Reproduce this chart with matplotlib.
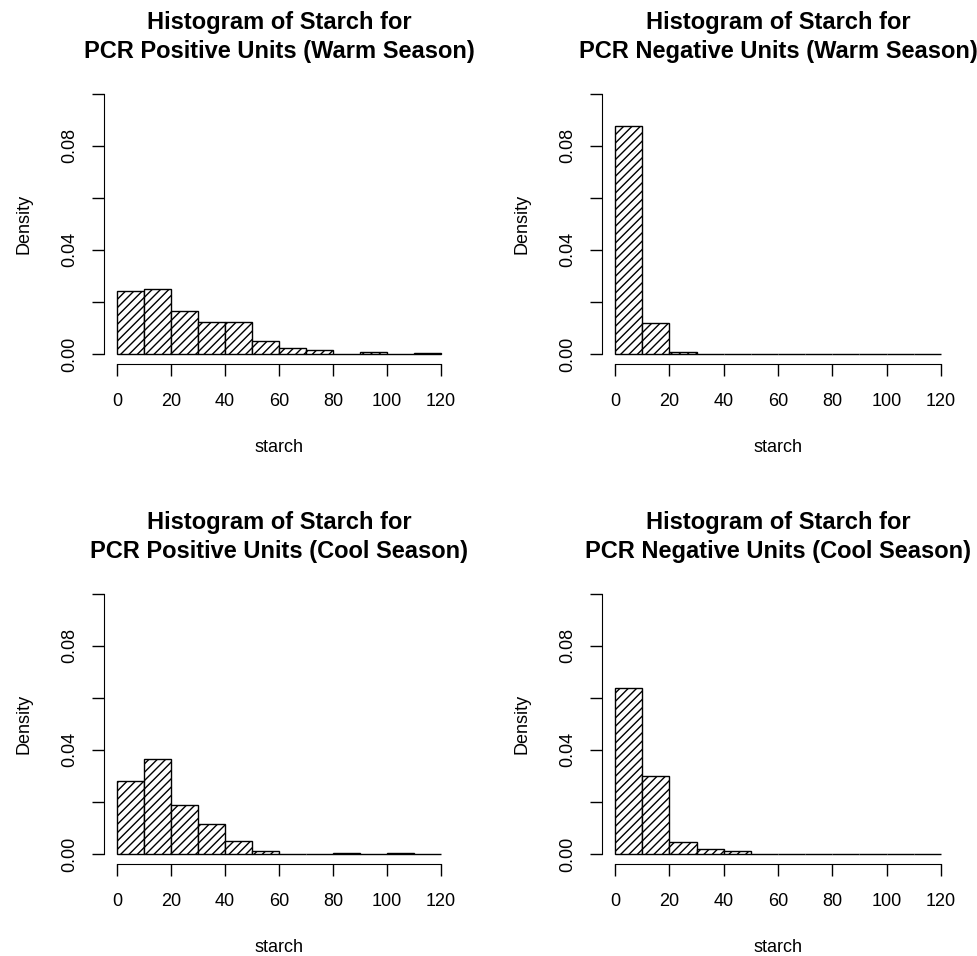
import matplotlib
matplotlib.use("Agg")
import matplotlib.pyplot as plt

plt.rcParams['font.family'] = ['Liberation Sans', 'DejaVu Sans']
plt.rcParams['hatch.linewidth'] = 1.0

# bin edges for starch (width 10)
bin_left = [0, 10, 20, 30, 40, 50, 60, 70, 80, 90, 100, 110]

# densities
warm_pos = [0.0242, 0.0250, 0.0166, 0.0124, 0.0122, 0.0051, 0.0024, 0.0017, 0.0, 0.0008, 0.0, 0.0004]
warm_neg = [0.0877, 0.0120, 0.0008, 0.0, 0.0, 0.0, 0.0, 0.0, 0.0, 0.0, 0.0, 0.0]
cool_pos = [0.0279, 0.0364, 0.0187, 0.0115, 0.0051, 0.0013, 0.0, 0.0, 0.0005, 0.0, 0.0005, 0.0]
cool_neg = [0.0636, 0.0301, 0.0045, 0.0018, 0.0010, 0.0, 0.0, 0.0, 0.0, 0.0, 0.0, 0.0]

titles = [
    "Histogram of Starch for\nPCR Positive Units (Warm Season)",
    "Histogram of Starch for\nPCR Negative Units (Warm Season)",
    "Histogram of Starch for\nPCR Positive Units (Cool Season)",
    "Histogram of Starch for\nPCR Negative Units (Cool Season)",
]
x_ticks = [0, 20, 40, 60, 80, 100, 120]
y_ticks = [0, 0.02, 0.04, 0.06, 0.08, 0.10]
y_labels = ["0.00", "", "0.04", "", "0.08", ""]

W, H = 978, 956
fig = plt.figure(figsize=(W / 100, H / 100), dpi=100)

# plot regions in pixels: left, right, top, bottom
regions = [
    (104, 454, 83.3, 364.4),
    (602, 954, 83.3, 364.4),
    (104, 454, 583.3, 864.4),
    (602, 954, 583.3, 864.4),
]
series = [warm_pos, warm_neg, cool_pos, cool_neg]

for (l, r, t, b), dens, title in zip(regions, series, titles):
    ax = fig.add_axes([l / W, 1 - b / H, (r - l) / W, (b - t) / H])
    ax.bar(bin_left, dens, width=10, align='edge', color='white',
           edgecolor='black', linewidth=1.0, hatch='////')
    ax.set_xlim(-4.8, 124.8)
    ax.set_ylim(-0.004, 0.104)
    for side in ['top', 'right']:
        ax.spines[side].set_visible(False)
    ax.spines['left'].set_bounds(0, 0.10)
    ax.spines['bottom'].set_bounds(0, 120)
    ax.set_xticks(x_ticks)
    ax.set_yticks(y_ticks)
    ax.set_yticklabels(y_labels, rotation=90, va='center')
    ax.tick_params(length=8.5, width=1.0, labelsize=13, pad=10)
    ax.tick_params(axis='x', pad=12)
    ax.set_xlabel("starch", fontsize=13, labelpad=21)
    ax.set_ylabel("Density", fontsize=13, labelpad=21)
    ax.set_title(title, fontsize=17, fontweight='bold', pad=18, linespacing=1.35)

fig.savefig("out.png", dpi=100)
